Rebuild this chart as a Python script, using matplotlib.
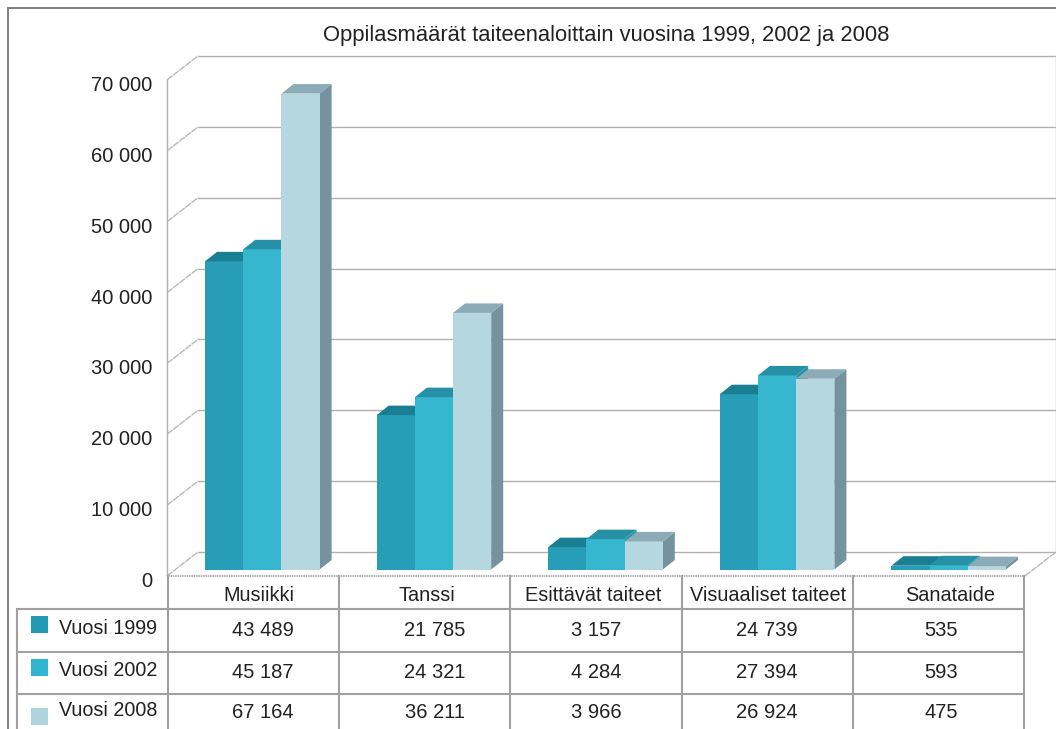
import matplotlib
matplotlib.use("Agg")
import matplotlib.pyplot as plt
from matplotlib.lines import Line2D
from matplotlib.patches import Rectangle
from matplotlib.transforms import ScaledTranslation

categories = ["Musiikki", "Tanssi", "Esittävät taiteet", "Visuaaliset taiteet", "Sanataide"]
series_names = ["Vuosi 1999", "Vuosi 2002", "Vuosi 2008"]
v1999 = [43489, 21785, 3157, 24739, 535]
v2002 = [45187, 24321, 4284, 27394, 593]
v2008 = [67164, 36211, 3966, 26924, 475]
table_text = [
    ["43 489", "21 785", "3 157", "24 739", "535"],
    ["45 187", "24 321", "4 284", "27 394", "593"],
    ["67 164", "36 211", "3 966", "26 924", "475"],
]
yticks = [0, 10000, 20000, 30000, 40000, 50000, 60000, 70000]
ylabels = ["0", "10 000", "20 000", "30 000", "40 000", "50 000", "60 000", "70 000"]
title = "Oppilasmäärät taiteenaloittain vuosina 1999, 2002 ja 2008"

plt.rcParams["font.family"] = ["Liberation Sans", "DejaVu Sans"]
TXT = "#222222"

W, H = 1056, 729
fig = plt.figure(figsize=(W / 100, H / 100), dpi=100, facecolor="white")
L, R, B, T = 167, 1025, 576, 80
ax = fig.add_axes([L / W, 1 - B / H, (R - L) / W, (B - T) / H])
ax.set_xlim(0, 5)
ax.set_ylim(0, 70000)
ux = (R - L) / 5          # px per category
uy = (B - T) / 70000      # px per value


def X(px):
    return (px - L) / ux


def Y(py):
    return (B - py) / uy


GRID = "#b0b0b0"
TBL = "#a0a0a0"
wall_dx, wall_dy = 31 / ux, 24 / uy

# walls and gridlines
for v in yticks:
    ax.plot([0, wall_dx], [v, v + wall_dy], color="#b8b8b8", lw=1, ls=(0, (5, 0.6)), clip_on=False, zorder=1)
    ax.plot([wall_dx, 5 + wall_dx], [v + wall_dy] * 2, color=GRID, lw=1, clip_on=False, zorder=1)
ax.plot([5, 5 + wall_dx], [0, wall_dy], color="#b8b8b8", lw=1, ls=(0, (5, 0.6)), clip_on=False, zorder=1)
ax.plot([5 + wall_dx] * 2, [wall_dy, 70000 + wall_dy], color=GRID, lw=1, clip_on=False, zorder=1)
ax.plot([0, 0], [0, 70000], color=GRID, lw=1, clip_on=False, zorder=1)

# 3D bars
bar_w = 38.2 / ux
d_x, d_y = 12 / ux, 9.5 / uy
base = 6.5 / uy
start = 38 / ux
front_cols = ["#279db7", "#37b6cf", "#b5d7e0"]
top_cols = ["#1b7f93", "#2690a6", "#8babb6"]
side_cols = ["#1b7f93", "#2690a6", "#74939e"]
series = [v1999, v2002, v2008]
for c in range(5):
    for s, vals in enumerate(series):
        v = vals[c]
        x0 = c + start + s * bar_w
        x1 = x0 + bar_w
        ax.bar(x0, v, width=bar_w, bottom=base, align="edge", color=front_cols[s],
               lw=0, zorder=3 + s, clip_on=False)
        ax.fill([x0, x1, x1 + d_x, x0 + d_x],
                [base + v, base + v, base + v + d_y, base + v + d_y],
                color=top_cols[s], lw=0, zorder=3 + s, clip_on=False)
        ax.fill([x1, x1 + d_x, x1 + d_x, x1],
                [base, base + d_y, base + v + d_y, base + v],
                color=side_cols[s], lw=0, zorder=3 + s - 0.5, clip_on=False)

# axes ticks
for sp in ax.spines.values():
    sp.set_visible(False)
ax.patch.set_alpha(0)
ax.set_yticks(yticks, ylabels)
label_px = [259, 427, 593, 768, 950]
ax.set_xticks([X(p) for p in label_px], categories)
ax.tick_params(axis="y", length=0, pad=10.8, labelsize=14.5, labelcolor=TXT)
ax.tick_params(axis="x", length=0, pad=7, labelsize=14.3, labelcolor=TXT)
shift = ScaledTranslation(0, -3.5 / 100, fig.dpi_scale_trans)
for lab in ax.get_yticklabels():
    lab.set_transform(lab.get_transform() + shift)

# title
fig.text(606 / W, 1 - 35.5 / H, title, ha="center", va="center", fontsize=15.8, color=TXT)

# table grid
col_px = [168, 339, 510, 682, 853, 1024]
row_px = [609, 652, 694]
for x in col_px:
    ax.plot([X(x)] * 2, [Y(576), Y(729)], color=TBL, lw=1.5, clip_on=False, zorder=2)
for y in row_px:
    ax.plot([X(17), X(1024)], [Y(y)] * 2, color=TBL, lw=1.5, clip_on=False, zorder=2)
ax.plot([X(17)] * 2, [Y(609), Y(729)], color=TBL, lw=1.5, clip_on=False, zorder=2)
ax.plot([X(168), X(1024)], [Y(576)] * 2, color="#a8a8a8", lw=1.2, ls=(0, (1, 0.4)), clip_on=False, zorder=2)

# legend keys and table text
key_py = [616, 659, 708]
name_py = [628, 670, 711]
val_py = [631, 673, 713]
val_px = [263, 435, 596, 767, 941]
key_cols = ["#2299b3", "#2fb5d0", "#aed5dd"]
for r in range(3):
    ax.add_patch(Rectangle((X(31), Y(key_py[r] + 17)), 17 / ux, 17 / uy, fc=key_cols[r],
                           ec="none", clip_on=False, zorder=3))
    ax.text(X(59), Y(name_py[r]), series_names[r], ha="left", va="center",
            fontsize=14.2, color=TXT, clip_on=False)
    for c in range(5):
        ax.text(X(val_px[c]), Y(val_py[r]), table_text[r][c], ha="center", va="center",
                fontsize=14.5, color=TXT, clip_on=False)

# outer frame
fr = "#7f7f7f"
fig.add_artist(Line2D([8 / W, 8 / W], [0, 1 - 7.5 / H], color=fr, lw=1.4))
fig.add_artist(Line2D([8 / W, 1], [1 - 7.5 / H] * 2, color=fr, lw=1.4))

fig.savefig("out.png", dpi=100)
